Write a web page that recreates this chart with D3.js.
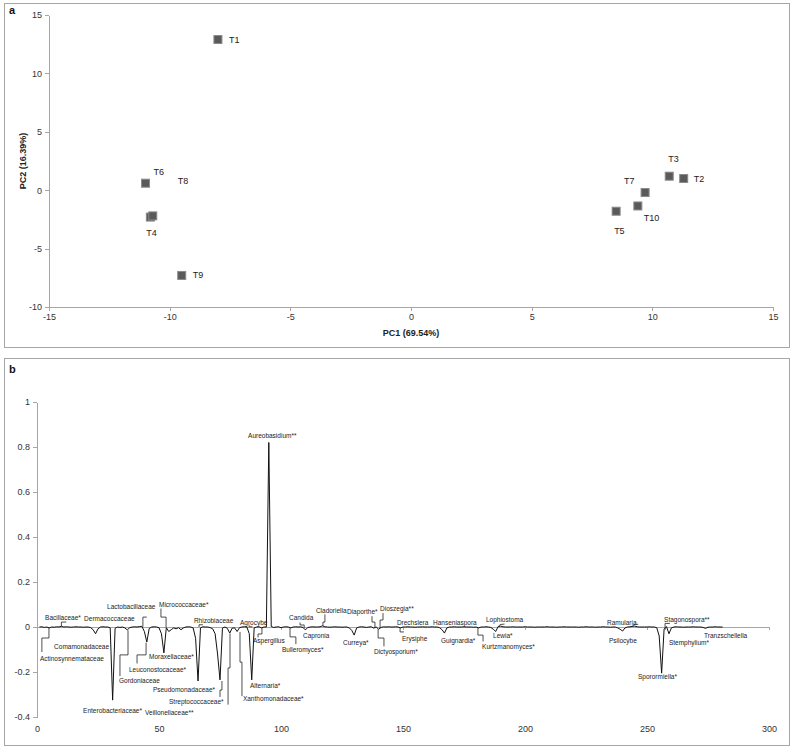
<!DOCTYPE html>
<html>
<head>
<meta charset="utf-8">
<script src="https://cdn.jsdelivr.net/npm/d3@7"></script>
<style>
  body { margin: 0; background: #fff; }
  svg { font-family: "Liberation Sans", Arial, sans-serif; }
  .panel-box { fill: none; stroke: #a6a6a6; stroke-width: 1; }
  .panel-tag { font-weight: bold; font-size: 11px; fill: #111; }
  .axis path, .axis line { stroke: #a6a6a6; shape-rendering: crispEdges; }
  .axis text { fill: #333; font-size: 9px; }
  .axis-title { font-weight: bold; font-size: 9px; fill: #222; }
  .point { fill: #5a5a5a; stroke: #8a8a8a; stroke-width: 1; }
  .point-label { font-size: 9px; fill: #222; }
  .loading-line { fill: none; stroke: #111; stroke-width: 1; }
  .leader { fill: none; stroke: #222; stroke-width: 0.8; }
  .taxon-label { font-size: 6.5px; fill: #222; }
</style>
</head>
<body>
<div id="chart"></div>
<script>
// ---------- panel a: PCA scores ----------
const treatments = ['T1', 'T2', 'T3', 'T4', 'T5', 'T6', 'T7', 'T8', 'T9', 'T10'];
const pc1Scores = [-8.0, 11.3, 10.7, -10.8, 8.5, -11.0, 9.7, -10.7, -9.5, 9.4];
const pc2Scores = [12.9, 1.0, 1.2, -2.3, -1.8, 0.6, -0.2, -2.2, -7.3, -1.35];
const pc1Ticks = [-15, -10, -5, 0, 5, 10, 15];
const pc2Ticks = [-10, -5, 0, 5, 10, 15];

// ---------- panel b: loadings per taxon index ----------
const loadingTicksX = [0, 50, 100, 150, 200, 250, 300];
const loadingTicksY = [-0.4, -0.2, 0, 0.2, 0.4, 0.6, 0.8, 1];
const loadings = [
  0, 0.001, -0.002, 0, -0.004, 0, -0.001, 0.001, 0, 0.003, 0, 0.001, 0, -0.001, 0, 0.001, 0, 0, -0.001, 0,
  0, -0.003, -0.012, -0.03, -0.008, 0, 0.001, 0, 0, -0.004, -0.325, -0.006, 0, -0.002, 0, -0.004, -0.013, -0.003, 0, 0.001,
  0, 0.002, 0.003, -0.02, -0.067, -0.006, 0, 0.001, 0, -0.003, -0.03, -0.115, -0.003, -0.02, -0.012, -0.004, -0.008, -0.003, -0.012, -0.004,
  0, 0.001, 0, -0.004, -0.05, -0.24, -0.004, 0.001, 0, 0, -0.003, -0.008, -0.03, -0.12, -0.235, -0.005, 0, -0.006, -0.027, -0.005,
  -0.004, -0.02, -0.003, 0, 0.001, 0, -0.03, -0.235, -0.004, 0, 0.001, -0.004, 0, 0, 0.82, 0.002, -0.002, 0, 0.001, -0.003,
  0, 0.001, 0, -0.004, 0, 0.001, 0, 0.001, -0.002, -0.013, -0.002, 0, 0.001, 0, 0, 0.001, 0.005, 0.001, 0, -0.001,
  0, 0.001, 0, 0, -0.001, 0, 0, -0.004, -0.015, -0.036, -0.004, 0, 0.001, 0, -0.002, 0, 0.001, -0.005, 0, -0.01,
  -0.002, 0.001, 0, 0.001, 0, 0, 0.001, 0, -0.004, 0, 0, 0.001, 0, 0, -0.001, 0, 0, 0.001, 0, 0,
  0, 0.001, 0, 0, -0.003, -0.012, -0.027, -0.004, 0, 0, 0.001, 0, 0, 0, 0.001, 0, 0, 0, -0.001, 0,
  -0.004, 0, 0, 0.001, 0, -0.002, -0.01, -0.02, 0.002, 0.004, 0.001, 0, 0, 0, 0.001, 0, 0, 0, 0, 0.001,
  0, 0, 0, -0.001, 0, 0, 0, 0, 0.001, 0, 0, 0, -0.001, 0, 0, 0.001, 0, 0, 0, 0,
  0, -0.001, 0, 0, 0.001, 0, 0, 0, -0.001, 0, 0, 0.001, 0, 0, -0.001, 0, 0, -0.004, -0.01, -0.018,
  -0.004, 0, 0.001, 0.003, 0.004, 0.001, 0, 0, 0, 0, 0.001, 0, 0, -0.003, -0.04, -0.205, -0.01, 0.002, -0.03, -0.004,
  0, 0.001, 0, 0, -0.001, 0, 0, 0, 0.001, 0, 0, 0, -0.002, -0.006, -0.001, 0, 0, 0.001, 0, 0, 0
];
const taxa = [
  'Bacillaceae*', 'Dermacoccaceae', 'Lactobacillaceae', 'Micrococcaceae*', 'Rhizobiaceae', 'Agrocybe',
  'Aureobasidium**', 'Candida', 'Cladoriella', 'Diaporthe*', 'Dioszegia**', 'Drechslera', 'Hanseniaspora',
  'Lophiostoma', 'Ramularia', 'Stagonospora**',
  'Actinosynnemataceae', 'Comamonadaceae', 'Gordoniaceae', 'Leuconostocaceae*', 'Moraxellaceae*',
  'Enterobacteriaceae*', 'Pseudomonadaceae*', 'Streptococcaceae*', 'Veillonellaceae**', 'Alternaria*',
  'Xanthomonadaceae*', 'Aspergillus', 'Bulleromyces*', 'Capronia', 'Curreya*', 'Dictyosporium*', 'Erysiphe',
  'Guignardia*', 'Lewia*', 'Kurtzmanomyces*', 'Psilocybe', 'Sporormiella*', 'Stemphylium*', 'Tranzschellella'
];

const fmt = d => String(+d.toFixed(1));

const svg = d3.select('#chart').append('svg')
    .attr('width', 793)
    .attr('height', 750);

// ================= panel a =================
const a = svg.append('g');

a.append('rect').attr('class', 'panel-box')
    .attr('x', 4.5).attr('y', 3.5).attr('width', 785).attr('height', 344);
a.append('text').attr('class', 'panel-tag').attr('x', 9).attr('y', 14).text('a');

const xA = d3.scaleLinear().domain([-15, 15]).range([49, 773]);
const yA = d3.scaleLinear().domain([-10, 15]).range([307, 15]);

a.append('g').attr('class', 'axis')
    .attr('transform', `translate(0,${yA(-10)})`)
    .call(d3.axisBottom(xA).tickValues(pc1Ticks).tickSize(4).tickSizeOuter(0).tickFormat(fmt));

a.append('g').attr('class', 'axis')
    .attr('transform', `translate(${xA(-15)},0)`)
    .call(d3.axisLeft(yA).tickValues(pc2Ticks).tickSize(4).tickSizeOuter(0).tickFormat(fmt));

a.append('text').attr('class', 'axis-title')
    .attr('x', (xA(-15) + xA(15)) / 2).attr('y', 336)
    .attr('text-anchor', 'middle')
    .text('PC1 (69.54%)');

a.append('text').attr('class', 'axis-title')
    .attr('transform', `translate(26,${(yA(-10) + yA(15)) / 2}) rotate(-90)`)
    .attr('text-anchor', 'middle')
    .text('PC2 (16.39%)');

// label placement next to each square, as laid out in the figure
const pointLabelOffsets = {
  T1: [11, 3], T2: [10, 3], T3: [-1, -14], T4: [-4, 19], T5: [-2, 23],
  T6: [8, -8], T7: [-21, -9], T8: [25, -32], T9: [11, 3], T10: [6, 15]
};

const scores = treatments.map((t, i) => ({ name: t, x: pc1Scores[i], y: pc2Scores[i] }));

a.selectAll('.point')
    .data(scores)
  .join('rect')
    .attr('class', 'point')
    .attr('x', d => xA(d.x) - 4)
    .attr('y', d => yA(d.y) - 4)
    .attr('width', 8)
    .attr('height', 8);

a.selectAll('.point-label')
    .data(scores)
  .join('text')
    .attr('class', 'point-label')
    .attr('x', d => xA(d.x) + pointLabelOffsets[d.name][0])
    .attr('y', d => yA(d.y) + pointLabelOffsets[d.name][1])
    .text(d => d.name);

// ================= panel b =================
const b = svg.append('g');

b.append('rect').attr('class', 'panel-box')
    .attr('x', 4.5).attr('y', 358.5).attr('width', 785).attr('height', 387);
b.append('text').attr('class', 'panel-tag').attr('x', 9).attr('y', 373).text('b');

const xB = d3.scaleLinear().domain([0, 300]).range([37, 769]);
const yB = d3.scaleLinear().domain([-0.4, 1]).range([717, 402]);

b.append('g').attr('class', 'axis')
    .attr('transform', `translate(${xB(0)},0)`)
    .call(d3.axisLeft(yB).tickValues(loadingTicksY).tickSize(4).tickSizeOuter(0).tickFormat(fmt));

// category axis crosses at zero, labels sit low
b.append('g').attr('class', 'axis')
    .attr('transform', `translate(0,${yB(0)})`)
    .call(d3.axisBottom(xB).tickValues(loadingTicksX).tickSize(3).tickSizeOuter(0).tickFormat(''));

b.append('g').attr('class', 'axis')
    .attr('transform', `translate(0,${yB(-0.4)})`)
    .call(d3.axisBottom(xB).tickValues(loadingTicksX).tickSize(0).tickPadding(9).tickFormat(fmt))
    .call(g => g.select('.domain').remove());

const line = d3.line()
    .x((d, i) => xB(i + 1))
    .y(d => yB(d));

b.append('path')
    .datum(loadings)
    .attr('class', 'loading-line')
    .attr('d', line);

// label positions and leader elbows, in data units
const taxonLayout = {
  'Bacillaceae*':        { x: 3.3,   y: 0.029,  leader: [[10, 0.003], [10, 0.022], [12, 0.022]] },
  'Dermacoccaceae':      { x: 19.3,  y: 0.027 },
  'Lactobacillaceae':    { x: 28.7,  y: 0.078,  leader: [[43.4, 0.001], [43.4, 0.044], [45, 0.044]] },
  'Micrococcaceae*':     { x: 50,    y: 0.091,  leader: [[50.8, 0.082], [50.8, 0.044], [52.9, 0.044], [52.9, 0]] },
  'Rhizobiaceae':        { x: 64.3,  y: 0.016,  leader: [[66.4, 0], [66.4, 0.01], [68, 0.01]] },
  'Agrocybe':            { x: 83.2,  y: 0.011,  leader: [[86.9, 0.008], [86.9, 0.001], [88.3, 0.001]] },
  'Aureobasidium**':     { x: 86.5,  y: 0.842 },
  'Candida':             { x: 103.3, y: 0.029,  leader: [[107.8, 0.02], [107.8, 0.009], [109.5, 0.009], [109.5, -0.004]] },
  'Cladoriella':         { x: 114.3, y: 0.064,  leader: [[118, 0.056], [118, 0.022], [117.2, 0.022], [117.2, 0.004]] },
  'Diaporthe*':          { x: 127,   y: 0.056,  leader: [[137.3, 0.048], [137.3, 0.022], [138.5, 0.022], [138.5, -0.004]] },
  'Dioszegia**':         { x: 140.6, y: 0.069,  leader: [[141.8, 0.062], [141.8, 0.031], [140.6, 0.031], [140.6, -0.004]] },
  'Drechslera':          { x: 147.5, y: 0.011 },
  'Hanseniaspora':       { x: 162.3, y: 0.011 },
  'Lophiostoma':         { x: 184,   y: 0.024,  leader: [[189, 0], [189.8, 0.011], [191.6, 0.013]] },
  'Ramularia':           { x: 233.6, y: 0.011,  leader: [[243.9, 0], [244.7, 0.012], [246.4, 0.012]] },
  'Stagonospora**':      { x: 257,   y: 0.024,  leader: [[257.4, -0.013], [257.4, 0.016], [259.4, 0.016]] },
  'Actinosynnemataceae': { x: 1.2,   y: -0.153, leader: [[4.9, -0.004], [4.9, -0.049], [2, -0.049], [2, -0.111]] },
  'Comamonadaceae':      { x: 7,     y: -0.096 },
  'Gordoniaceae':        { x: 33.6,  y: -0.251, leader: [[34, -0.218], [34, -0.124], [37.3, -0.124], [37.3, -0.015]] },
  'Leuconostocaceae*':   { x: 37.7,  y: -0.202, leader: [[41, -0.162], [41, -0.124], [44.7, -0.124], [44.7, -0.07]] },
  'Moraxellaceae*':      { x: 45.9,  y: -0.144 },
  'Enterobacteriaceae*': { x: 18.9,  y: -0.384 },
  'Pseudomonadaceae*':   { x: 47.5,  y: -0.291 },
  'Streptococcaceae*':   { x: 54.1,  y: -0.34,  leader: [[75.8, -0.24], [75.8, -0.28], [75, -0.28], [75, -0.311]] },
  'Veillonellaceae**':   { x: 44.3,  y: -0.389, leader: [[78.3, -0.345], [78.3, -0.182], [79.1, -0.182], [79.1, -0.029]] },
  'Alternaria*':         { x: 87.3,  y: -0.273 },
  'Xanthomonadaceae*':   { x: 84.4,  y: -0.327, leader: [[83.2, -0.022], [83.2, -0.156], [84, -0.156], [84, -0.307]] },
  'Aspergillus':         { x: 88.5,  y: -0.073, leader: [[92.2, -0.004], [92.2, -0.031], [90.6, -0.031], [90.6, -0.046]] },
  'Bulleromyces*':       { x: 100.4, y: -0.109, leader: [[103.7, -0.004], [103.7, -0.044], [106.1, -0.044], [106.1, -0.076]] },
  'Capronia':            { x: 109,   y: -0.051 },
  'Curreya*':            { x: 125.4, y: -0.082 },
  'Dictyosporium*':      { x: 138.1, y: -0.122, leader: [[139.8, -0.01], [139.8, -0.049], [142.2, -0.049], [142.2, -0.086]] },
  'Erysiphe':            { x: 149.6, y: -0.06,  leader: [[148.8, -0.004], [148.8, -0.022], [150.4, -0.022]] },
  'Guignardia*':         { x: 165.6, y: -0.073 },
  'Lewia*':              { x: 186.9, y: -0.051 },
  'Kurtzmanomyces*':     { x: 182.4, y: -0.096, leader: [[180.7, -0.004], [180.7, -0.036], [182.8, -0.036], [182.8, -0.064]] },
  'Psilocybe':           { x: 234.4, y: -0.069 },
  'Sporormiella*':       { x: 246.3, y: -0.233 },
  'Stemphylium*':        { x: 259,   y: -0.078 },
  'Tranzschellella':     { x: 273.4, y: -0.047 }
};

const leaderLine = d3.line()
    .x(d => xB(d[0]))
    .y(d => yB(d[1]));

b.selectAll('.leader')
    .data(taxa.filter(t => taxonLayout[t].leader))
  .join('path')
    .attr('class', 'leader')
    .attr('d', t => leaderLine(taxonLayout[t].leader));

b.selectAll('.taxon-label')
    .data(taxa)
  .join('text')
    .attr('class', 'taxon-label')
    .attr('x', t => xB(taxonLayout[t].x))
    .attr('y', t => yB(taxonLayout[t].y))
    .text(t => t);
</script>
</body>
</html>
